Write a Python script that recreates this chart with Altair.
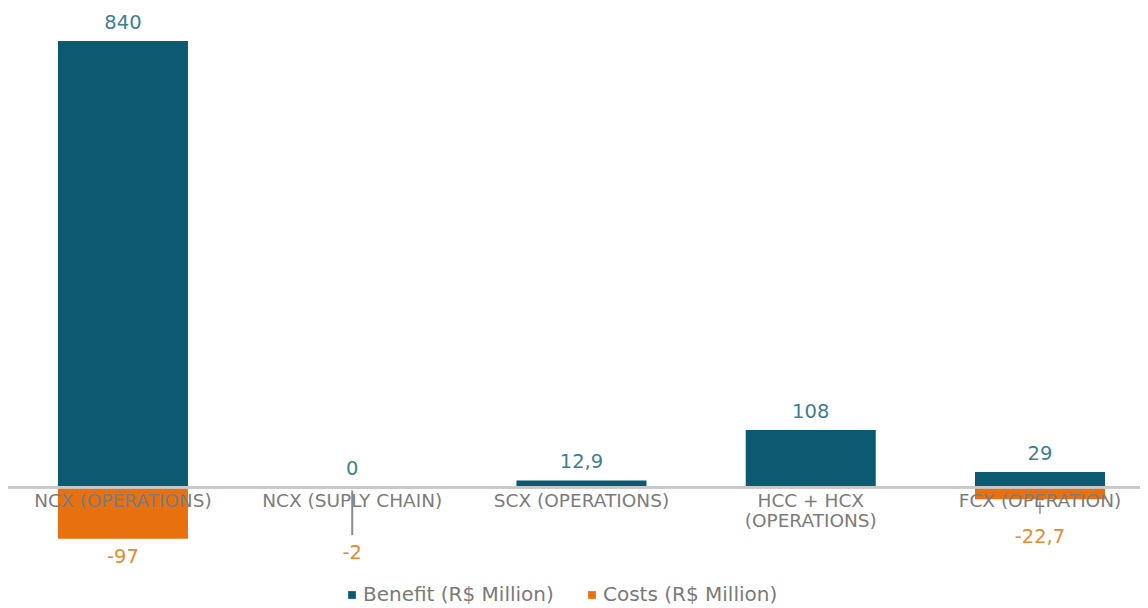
import altair as alt
import pandas as pd

categories = ["NCX (OPERATIONS)", "NCX (SUPLY CHAIN)", "SCX (OPERATIONS)",
              "HCC + HCX|(OPERATIONS)", "FCX (OPERATION)"]
benefit = [840, 0, 12.9, 108, 29]
cost_categories = ["NCX (OPERATIONS)", "NCX (SUPLY CHAIN)", "FCX (OPERATION)"]
costs = [-97, -2, -22.7]
series = ["Benefit (R$ Million)", "Costs  (R$ Million)"]
colors = ["#0b5a72", "#e8700f"]

rows = [{"cat": c, "series": series[0], "value": v} for c, v in zip(categories, benefit)]
rows += [{"cat": c, "series": series[1], "value": v} for c, v in zip(cost_categories, costs)]
df = pd.DataFrame(rows)
df["zero"] = 0.0
df["lbl"] = [f"{v:g}".replace(".", ",") for v in df["value"]]
df["first"] = df["series"] == series[0]

FONT = "DejaVu Sans"
x = alt.X("cat:N", sort=categories, axis=None,
          scale=alt.Scale(paddingInner=0.4329, paddingOuter=0.1853, align=0.588, round=False))
yscale = alt.Scale(domain=[-150, 840], nice=False)
y = alt.Y("value:Q", axis=None, scale=yscale)
yz = alt.Y("zero:Q", axis=None, scale=yscale)

base = alt.Chart(df).encode(x=x)

bars = base.mark_bar().encode(
    y=y,
    y2="zero:Q",
    color=alt.Color("series:N", scale=alt.Scale(domain=series, range=colors),
                    legend=alt.Legend(title=None, orient="none", direction="horizontal",
                                      legendX=334, legendY=544, symbolType="square",
                                      symbolSize=60, labelFontSize=20, labelFont=FONT,
                                      labelColor="#7a7a7a", labelOffset=1, labelLimit=400,
                                      columnPadding=28, symbolStrokeWidth=0)),
)

zero = alt.Chart(df).mark_rule(color="#c8c8c8", strokeWidth=2).encode(y=yz)

cat_labels = base.transform_filter("datum.first").mark_text(
    baseline="top", dy=5, fontSize=18.5, font=FONT, color="#7c7c7c", lineBreak="|",
    lineHeight=20
).encode(y=yz, text="cat:N")

ben_labels = base.transform_filter("datum.first").mark_text(
    baseline="bottom", dy=-8, fontSize=19.5, font=FONT, color="#3e7f92"
).encode(y=y, text="lbl:N")

cost_base = base.transform_filter("!datum.first")

c1 = cost_base.transform_filter(alt.datum.cat == cost_categories[0]).mark_text(
    baseline="top", dy=9, fontSize=19.5, font=FONT, color="#e68a2e").encode(y=y, text="lbl:N")
c2 = cost_base.transform_filter(alt.datum.cat == cost_categories[1]).mark_text(
    baseline="top", dy=56, fontSize=19.5, font=FONT, color="#e68a2e").encode(y=y, text="lbl:N")
c3 = cost_base.transform_filter(alt.datum.cat == cost_categories[2]).mark_text(
    baseline="top", dy=29, fontSize=19.5, font=FONT, color="#e68a2e").encode(y=y, text="lbl:N")

lead2 = cost_base.transform_filter(alt.datum.cat == cost_categories[1]).transform_calculate(
    y1="datum.value - 4", y2="datum.value - 88").mark_rule(
    color="#8a8a8a", strokeWidth=2).encode(y=alt.Y("y1:Q", scale=yscale, axis=None), y2="y2:Q")
lead3 = cost_base.transform_filter(alt.datum.cat == cost_categories[2]).transform_calculate(
    y1="datum.value - 4", y2="datum.value - 27").mark_rule(
    color="#8a8a8a", strokeWidth=1.5).encode(y=alt.Y("y1:Q", scale=yscale, axis=None), y2="y2:Q")

chart = alt.layer(bars, zero, lead2, lead3, cat_labels, ben_labels, c1, c2, c3).properties(
    width=1132, height=526,
    autosize=alt.AutoSizeParams(type="none"),
    padding={"left": 0, "top": 33, "right": 0, "bottom": 41},
    background="white",
).configure_view(stroke=None)

chart.save("out.html", embed_options={"renderer": "svg", "actions": False})
